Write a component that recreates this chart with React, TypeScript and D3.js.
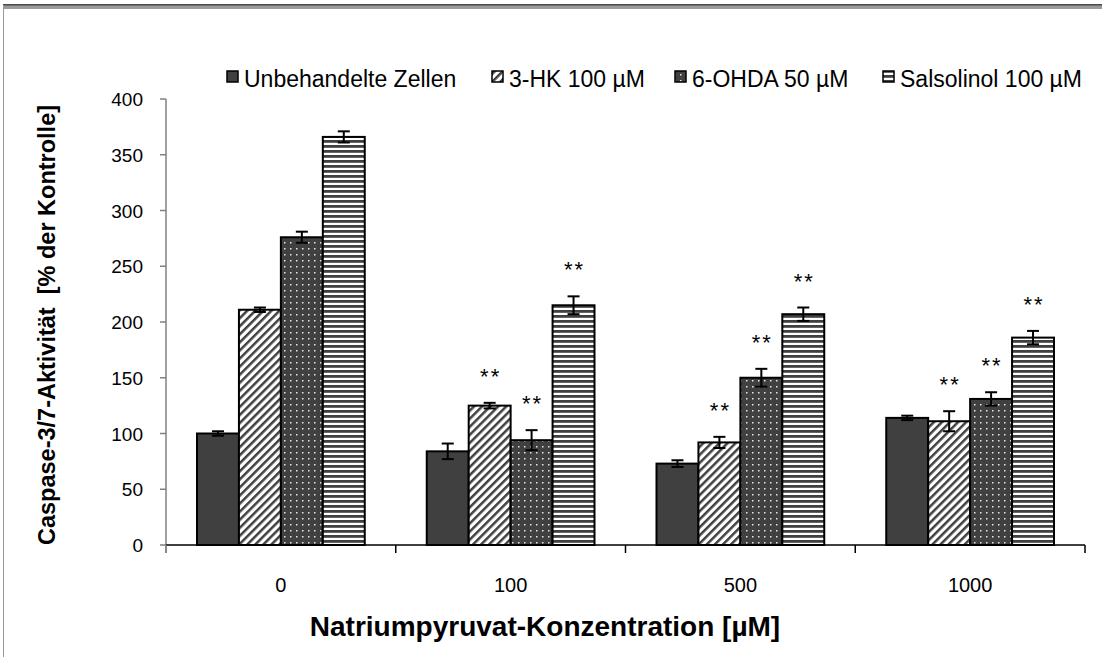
import React from "react";
import * as d3 from "d3";

const categories = ["0", "100", "500", "1000"];
const seriesNames = ["Unbehandelte Zellen", "3-HK 100 µM", "6-OHDA 50 µM", "Salsolinol 100 µM"];
const unbehandelte = [100, 84, 73, 114];
const hk = [211, 125, 92, 111];
const ohda = [276, 94, 150, 131];
const salsolinol = [366, 215, 207, 186];
const unbehandelteErr = [2, 7, 3, 2];
const hkErr = [2, 2.5, 5, 9];
const ohdaErr = [5, 9, 8, 6];
const salsolinolErr = [5, 8, 6, 6];
const unbehandelteSig = [false, false, false, false];
const hkSig = [false, true, true, true];
const ohdaSig = [false, true, true, true];
const salsolinolSig = [false, true, true, true];
const yTicks = [0, 50, 100, 150, 200, 250, 300, 350, 400];

const seriesValues = [unbehandelte, hk, ohda, salsolinol];
const seriesErrs = [unbehandelteErr, hkErr, ohdaErr, salsolinolErr];
const seriesSig = [unbehandelteSig, hkSig, ohdaSig, salsolinolSig];
const fills = ["#404040", "url(#hatch)", "url(#dots)", "url(#hstripes)"];

const FONT = "Arial, 'Liberation Sans', sans-serif";

export default function App() {
  const W = 1102, H = 657;
  const x0 = 166, x1 = 1085, yBase = 545, yTop = 99;
  const x = d3.scaleBand<string>().domain(categories).range([x0, x1]).paddingInner(0).paddingOuter(0);
  const bw = x.bandwidth();
  const xs = d3.scaleBand<string>().domain(seriesNames).range([31, bw - 31]).padding(0);
  const y = d3.scaleLinear().domain([0, 400]).range([yBase, yTop]);
  const legendX = [227, 492, 675, 883];

  return (
    <svg width={W} height={H} style={{ position: "absolute", left: 0, top: 0, background: "#fff" }} fontFamily={FONT}>
      <defs>
        <pattern id="hatch" width="5.7" height="5.7" patternUnits="userSpaceOnUse" patternTransform="rotate(45)">
          <rect width="5.7" height="5.7" fill="#fff" />
          <rect x="0" y="0" width="2.5" height="5.7" fill="#404040" />
        </pattern>
        <pattern id="dots" width="6" height="6" patternUnits="userSpaceOnUse">
          <rect width="6" height="6" fill="#404040" />
          <rect x="2" y="2" width="1.5" height="1.5" fill="#e8e8e8" />
        </pattern>
        <pattern id="hstripes" width="5" height="5" patternUnits="userSpaceOnUse">
          <rect width="5" height="5" fill="#fff" />
          <rect x="0" y="0" width="5" height="2.8" fill="#404040" />
        </pattern>
      </defs>
      <rect x={0} y={0} width={W} height={H} fill="#fff" />
      {/* frame */}
      <rect x={3} y={5.5} width={W - 3} height={3.5} fill="#9a9a9a" />
      <line x1={3} x2={W} y1={4.8} y2={4.8} stroke="#111" strokeWidth={1.2} />
      <line x1={3.5} x2={3.5} y1={5} y2={H} stroke="#999" strokeWidth={1} />

      {/* y axis */}
      <line x1={x0} x2={x0} y1={yTop} y2={yBase + 8} stroke="#808080" strokeWidth={1.5} />
      {yTicks.map((t) => (
        <g key={t}>
          <line x1={x0 - 6} x2={x0} y1={y(t)} y2={y(t)} stroke="#808080" strokeWidth={1.5} />
          <text x={143} y={y(t) + 7} textAnchor="end" fontSize={19} fill="#000">{t}</text>
        </g>
      ))}

      {/* bars */}
      {categories.map((c, ci) => (
        <g key={c}>
          {seriesNames.map((s, si) => {
            const v = seriesValues[si][ci];
            const bx = (x(c) as number) + (xs(s) as number);
            const w = xs.bandwidth();
            return (
              <rect key={s} x={bx} y={y(v)} width={w} height={yBase - y(v)} fill={fills[si]} stroke="#000" strokeWidth={2} />
            );
          })}
        </g>
      ))}

      {/* x axis */}
      <line x1={x0} x2={x1} y1={yBase} y2={yBase} stroke="#000" strokeWidth={1.5} />
      {[...categories.map((c) => x(c) as number), x1].map((tx, i) => (
        <line key={i} x1={tx} x2={tx} y1={yBase} y2={yBase + 8} stroke={i === 0 ? "#808080" : "#000"} strokeWidth={1.5} />
      ))}
      {categories.map((c) => (
        <text key={c} x={(x(c) as number) + bw / 2} y={592} textAnchor="middle" fontSize={20} fill="#000">{c}</text>
      ))}

      {/* error bars and stars */}
      {categories.map((c, ci) => (
        <g key={"e" + c}>
          {seriesNames.map((s, si) => {
            const v = seriesValues[si][ci];
            const e = seriesErrs[si][ci];
            const cx = (x(c) as number) + (xs(s) as number) + xs.bandwidth() / 2;
            const top = y(v + e), bot = y(v - e);
            return (
              <g key={s}>
                <line x1={cx} x2={cx} y1={top} y2={bot} stroke="#000" strokeWidth={2} />
                <line x1={cx - 6} x2={cx + 6} y1={top} y2={top} stroke="#000" strokeWidth={2} />
                <line x1={cx - 6} x2={cx + 6} y1={bot} y2={bot} stroke="#000" strokeWidth={2} />
                {seriesSig[si][ci] && (
                  <text x={cx + 1} y={top - 19} textAnchor="middle" fontSize={22} letterSpacing={2} fill="#000">**</text>
                )}
              </g>
            );
          })}
        </g>
      ))}

      {/* legend */}
      {seriesNames.map((s, si) => (
        <g key={"l" + s}>
          <rect x={legendX[si]} y={71} width={11} height={11} fill={fills[si]} stroke="#000" strokeWidth={1.5} />
          <text x={legendX[si] + 17} y={87} fontSize={23} fill="#000">{s}</text>
        </g>
      ))}

      {/* axis titles */}
      <text transform="translate(55,325) rotate(-90)" textAnchor="middle" fontSize={23.5} fontWeight="bold" fill="#000" style={{ whiteSpace: "pre" }}>
        {"Caspase-3/7-Aktivität  [% der Kontrolle]"}
      </text>
      <text x={545} y={636} textAnchor="middle" fontSize={28} fontWeight="bold" fill="#000">
        Natriumpyruvat-Konzentration [µM]
      </text>
    </svg>
  );
}
